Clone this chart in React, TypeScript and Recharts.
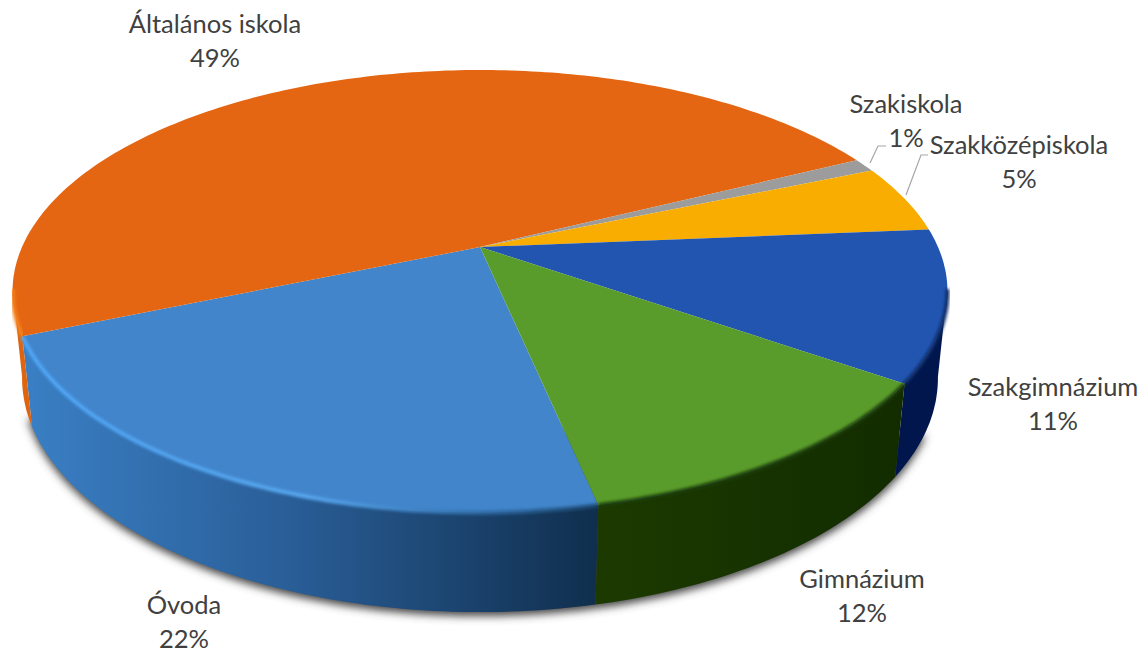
import { Pie, PieChart } from "recharts";

// Share of institutions by school type, in percent
const categories = ["Óvoda", "Általános iskola", "Szakiskola", "Szakközépiskola", "Szakgimnázium", "Gimnázium"];
const shares = [22, 49, 1, 5, 11, 12];

const tableData = categories.map((name, i) => ({ name, value: shares[i] }));

const topColors = ["#4285cb", "#e46612", "#9c9c9c", "#f8ad00", "#2255b0", "#5a9c2c"];
const wallColors = ["url(#wall-blue)", "#de6410", "#777777", "#b07a00", "#00164d", "url(#wall-green)"];
const rimColors = ["url(#rim-blue)", "#f5821f", "#777777", "#7a5a00", "#0c2a66", "#1c3d08"];

const WIDTH = 1148;
const HEIGHT = 653;
const CX = 480;
const CY = 247;
const RADIUS = 458;

// Perspective of the tilted disc
const TILT = 212.4;
const PERSP = 0.2;
const DEPTH = 87;
const DEPTH_PERSP = 0.02;
const SILHOUETTE = 11;
const START_ANGLE = -78;

const project = (deg: number, h: number) => {
  const rad = (deg * Math.PI) / 180;
  const x = Math.cos(rad);
  const z = Math.sin(rad);
  const w = 1 / (1 - PERSP * z + DEPTH_PERSP * h);
  return [CX + RADIUS * x * w, CY + (TILT * z + DEPTH * h) * w];
};

// Points along the rim, from deg a to deg b, measured clockwise from the right
const arc = (a: number, b: number, h: number) => {
  const steps = Math.max(2, Math.ceil(Math.abs(b - a)));
  const pts: string[] = [];
  for (let i = 0; i <= steps; i++) {
    const [x, y] = project(a + ((b - a) * i) / steps, h);
    pts.push(`${x.toFixed(1)} ${y.toFixed(1)}`);
  }
  return pts;
};

const visibleRange = (a: number, b: number): [number, number] | null => {
  for (const turn of [0, 360, -360]) {
    const lo = Math.max(a, SILHOUETTE + turn);
    const hi = Math.min(b, 180 - SILHOUETTE + turn);
    if (lo < hi) return [lo, hi];
  }
  return null;
};

const WallShape = (props: any) => {
  const range = visibleRange(-props.startAngle, -props.endAngle);
  if (!range) return <g />;
  const top = arc(range[0], range[1], 0);
  const bottom = arc(range[1], range[0], 1);
  return <path d={`M${top.join("L")}L${bottom.join("L")}Z`} fill={wallColors[props.index]} />;
};

const TopShape = (props: any) => {
  const a = -props.startAngle;
  const b = -props.endAngle;
  const range = visibleRange(a, b);
  return (
    <g>
      <path d={`M${CX} ${CY}L${arc(a, b, 0).join("L")}Z`} fill={topColors[props.index]} />
      {range && (
        <path
          d={`M${arc(range[0], range[1], 0).join("L")}`}
          fill="none"
          stroke={rimColors[props.index]}
          strokeWidth={4}
          filter="url(#rim-soft)"
        />
      )}
    </g>
  );
};

// Anchor of the first line of each two-line label
const labelSpots: Record<string, { x: number; y: number }> = {
  "Óvoda": { x: 184, y: 614 },
  "Általános iskola": { x: 215, y: 33 },
  "Szakiskola": { x: 906, y: 113 },
  "Szakközépiskola": { x: 1019, y: 154 },
  "Szakgimnázium": { x: 1053, y: 396 },
  "Gimnázium": { x: 862, y: 588 },
};

const renderLabel = (props: any) => {
  const spot = labelSpots[props.name];
  return (
    <g>
      <text x={spot.x} y={spot.y} textAnchor="middle" fontFamily="Lato" fontSize={25.5} fill="#404040">
        {props.name}
      </text>
      <text x={spot.x} y={spot.y + 34} textAnchor="middle" fontFamily="Lato" fontSize={25.5} fill="#404040">
        {props.value}%
      </text>
    </g>
  );
};

const shadowOutline = `M${arc(24, 160, 1).join("L")}Z`;

export default function App() {
  return (
    <div style={{ position: "fixed", left: 0, top: 0, width: WIDTH, height: HEIGHT, background: "#fff" }}>
      <PieChart width={WIDTH} height={HEIGHT} margin={{ top: 0, right: 0, bottom: 0, left: 0 }}>
        <defs>
          <linearGradient id="wall-blue" gradientUnits="userSpaceOnUse" x1="25" y1="0" x2="595" y2="0">
            <stop offset="0" stopColor="#3a7fc4" />
            <stop offset="0.45" stopColor="#2a5f99" />
            <stop offset="1" stopColor="#102f4e" />
          </linearGradient>
          <linearGradient id="wall-green" gradientUnits="userSpaceOnUse" x1="595" y1="0" x2="905" y2="0">
            <stop offset="0" stopColor="#1c3a00" />
            <stop offset="1" stopColor="#122c00" />
          </linearGradient>
          <linearGradient id="rim-blue" gradientUnits="userSpaceOnUse" x1="25" y1="0" x2="595" y2="0">
            <stop offset="0" stopColor="#4ea6f7" />
            <stop offset="0.5" stopColor="#58a8f0" />
            <stop offset="0.8" stopColor="#2f6da8" />
            <stop offset="1" stopColor="#1e4a75" />
          </linearGradient>
          <filter id="rim-soft" x="-5%" y="-5%" width="110%" height="110%">
            <feGaussianBlur stdDeviation="1.6" />
          </filter>
          <filter id="drop-soft" x="-5%" y="-10%" width="110%" height="120%">
            <feGaussianBlur stdDeviation="4" />
          </filter>
        </defs>
        <path d={shadowOutline} fill="#444" filter="url(#drop-soft)" transform="translate(0 4)" />
        <Pie
          data={tableData}
          dataKey="value"
          nameKey="name"
          cx={CX}
          cy={CY}
          outerRadius={RADIUS}
          startAngle={START_ANGLE}
          endAngle={START_ANGLE - 360}
          stroke="none"
          shape={WallShape}
          isAnimationActive={false}
        />
        <Pie
          data={tableData}
          dataKey="value"
          nameKey="name"
          cx={CX}
          cy={CY}
          outerRadius={RADIUS}
          startAngle={START_ANGLE}
          endAngle={START_ANGLE - 360}
          stroke="none"
          shape={TopShape}
          label={renderLabel}
          labelLine={false}
          isAnimationActive={false}
        />
        <polyline points="870,163 878,146 886,146" fill="none" stroke="#a6a6a6" strokeWidth={1.2} />
        <polyline points="906,195 921,155 928,155" fill="none" stroke="#a6a6a6" strokeWidth={1.2} />
      </PieChart>
    </div>
  );
}
